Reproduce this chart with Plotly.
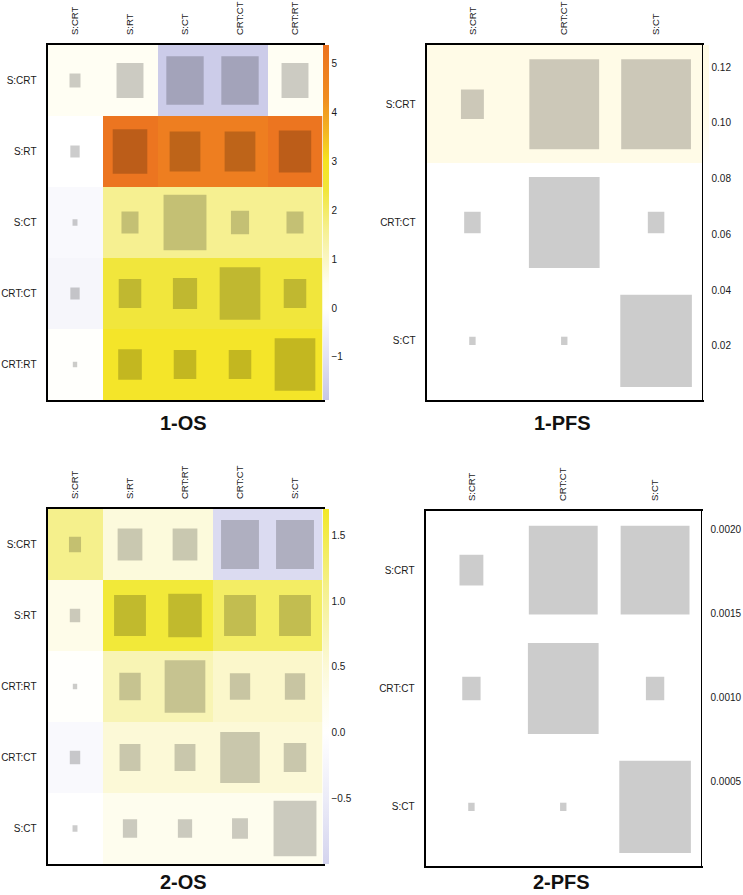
import plotly.graph_objects as go

# ---------------- data ----------------
os1_labels = ["S:CRT", "S:RT", "S:CT", "CRT:CT", "CRT:RT"]
os1_z = [
    [0.4, 0.4, -1.7, -1.7, 0.4],
    [0.0, 5.3, 4.9, 4.9, 5.3],
    [-0.2, 1.6, 1.6, 1.6, 1.6],
    [-0.3, 2.4, 2.4, 2.4, 2.4],
    [0.1, 2.8, 2.8, 2.8, 2.8],
]
os1_size = [
    [0.20, 0.49, 0.68, 0.68, 0.49],
    [0.17, 0.63, 0.56, 0.56, 0.59],
    [0.09, 0.31, 0.78, 0.33, 0.31],
    [0.17, 0.41, 0.44, 0.74, 0.41],
    [0.08, 0.43, 0.41, 0.41, 0.74],
]
os1_ticks = [-1, 0, 1, 2, 3, 4, 5]

pfs1_labels = ["S:CRT", "CRT:CT", "S:CT"]
pfs1_z = [
    [0.125, 0.125, 0.125],
    [0.03, 0.03, 0.03],
    [0.01, 0.01, 0.01],
]
pfs1_size = [
    [0.25, 0.76, 0.76],
    [0.18, 0.77, 0.18],
    [0.07, 0.07, 0.78],
]
pfs1_ticks = [0.02, 0.04, 0.06, 0.08, 0.10, 0.12]

os2_labels = ["S:CRT", "S:RT", "CRT:RT", "CRT:CT", "S:CT"]
os2_z = [
    [1.1, 0.45, 0.45, -0.85, -0.85],
    [0.3, 1.6, 1.6, 1.35, 1.35],
    [0.05, 0.8, 0.8, 0.6, 0.6],
    [-0.15, 0.5, 0.5, 0.5, 0.5],
    [0.0, 0.25, 0.25, 0.25, 0.25],
]
os2_size = [
    [0.22, 0.45, 0.45, 0.69, 0.69],
    [0.19, 0.58, 0.61, 0.58, 0.58],
    [0.08, 0.39, 0.74, 0.37, 0.37],
    [0.19, 0.38, 0.38, 0.72, 0.41],
    [0.09, 0.26, 0.26, 0.29, 0.78],
]
os2_ticks = [-0.5, 0.0, 0.5, 1.0, 1.5]

pfs2_labels = ["S:CRT", "CRT:CT", "S:CT"]
pfs2_z = [
    [0.0020, 0.0020, 0.0020],
    [0.0008, 0.0008, 0.0008],
    [0.0003, 0.0003, 0.0003],
]
pfs2_size = [
    [0.26, 0.75, 0.75],
    [0.20, 0.77, 0.20],
    [0.07, 0.07, 0.78],
]
pfs2_ticks = [0.0005, 0.0010, 0.0015, 0.0020]

titles = ["1-OS", "1-PFS", "2-OS", "2-PFS"]

# ---------------- styling ----------------
W, H = 743, 895
FONT = "Liberation Sans, Arial, sans-serif"


def px(x):
    return x / W


def py(y):
    return 1 - y / H


def scale(stops, zmin, zmax):
    return [[(v - zmin) / (zmax - zmin), c] for v, c in stops]


panels = [
    dict(labels=os1_labels, z=os1_z, size=os1_size, ticks=os1_ticks, fmt="d",
         zmin=-1.88, zmax=5.38, box=(47.5, 322.5, 45, 400), title_y=423,
         stops=[(-1.88, "rgb(198,198,230)"), (-1.0, "rgb(226,226,243)"),
                (0.0, "rgb(255,255,255)"), (0.5, "rgb(255,254,240)"),
                (1.0, "rgb(250,246,195)"), (1.6, "rgb(246,240,145)"),
                (2.4, "rgb(241,230,60)"), (3.0, "rgb(245,228,32)"),
                (3.6, "rgb(243,182,35)"), (4.3, "rgb(240,140,32)"),
                (5.38, "rgb(236,115,32)")]),
    dict(labels=pfs1_labels, z=pfs1_z, size=pfs1_size, ticks=pfs1_ticks, fmt=".2f",
         zmin=0.0005, zmax=0.128, box=(426.5, 702, 45, 400), title_y=423,
         stops=[(0.0005, "rgb(255,255,255)"), (0.085, "rgb(255,255,255)"),
                (0.1, "rgb(255,252,236)"), (0.128, "rgb(255,251,230)")]),
    dict(labels=os2_labels, z=os2_z, size=os2_size, ticks=os2_ticks, fmt=".1f",
         zmin=-1.0, zmax=1.70, box=(47.5, 322.5, 509, 864), title_y=882,
         stops=[(-1.0, "rgb(212,212,238)"), (-0.5, "rgb(236,236,248)"),
                (0.0, "rgb(255,255,255)"), (0.25, "rgb(254,253,238)"),
                (0.5, "rgb(252,249,215)"), (0.8, "rgb(248,244,180)"),
                (1.1, "rgb(245,240,140)"), (1.35, "rgb(243,237,100)"),
                (1.7, "rgb(242,232,40)")]),
    dict(labels=pfs2_labels, z=pfs2_z, size=pfs2_size, ticks=pfs2_ticks, fmt=".4f",
         zmin=0.0, zmax=0.00211, box=(425.5, 701, 511, 866), title_y=882,
         stops=[(0.0, "rgb(255,255,255)"), (0.00211, "rgb(255,255,255)")]),
]

fig = go.Figure()
shapes = []
annotations = []
layout_axes = {}

for k, p in enumerate(panels):
    n = len(p["labels"])
    xa = "x" if k == 0 else f"x{k+1}"
    ya = "y" if k == 0 else f"y{k+1}"
    x0p, x1p, y0p, y1p = p["box"]
    dom_x = [px(x0p), px(x1p)]
    dom_y = [py(y1p), py(y0p)]

    fig.add_trace(go.Heatmap(
        z=p["z"], x=p["labels"], y=p["labels"],
        xaxis=xa, yaxis=ya,
        zmin=p["zmin"], zmax=p["zmax"],
        colorscale=scale(p["stops"], p["zmin"], p["zmax"]),
        hoverinfo="skip",
        colorbar=dict(
            x=px(x1p + 0.5), xanchor="left", xpad=0, ypad=0,
            y=(dom_y[0] + dom_y[1]) / 2, yanchor="middle",
            len=(y1p - y0p) / H, lenmode="fraction",
            thickness=6, outlinewidth=0,
            tickvals=p["ticks"], tickformat=p["fmt"], ticks="",
            tickfont=dict(family=FONT, size=10, color="#1a1a1a"),
        ),
    ))

    for i in range(n):
        for j in range(n):
            s = p["size"][i][j]
            shapes.append(dict(
                type="rect", xref=xa, yref=ya,
                x0=j - s / 2, x1=j + s / 2, y0=i - s / 2, y1=i + s / 2,
                fillcolor="rgba(0,0,0,0.2)", line=dict(width=0), layer="above",
            ))

    axis_key_x = "xaxis" if k == 0 else f"xaxis{k+1}"
    axis_key_y = "yaxis" if k == 0 else f"yaxis{k+1}"
    layout_axes[axis_key_x] = dict(
        domain=dom_x, anchor=ya, side="top", type="category",
        range=[-0.5, n - 0.5], tickangle=-90, ticks="",
        ticklabelstandoff=6, automargin=False,
        tickfont=dict(family=FONT, size=9.5, color="#1a1a1a"),
        showgrid=False, zeroline=False,
        showline=True, mirror=True, linecolor="black", linewidth=2,
    )
    layout_axes[axis_key_y] = dict(
        domain=dom_y, anchor=xa, type="category",
        range=[n - 0.5, -0.5], ticks="",
        ticklabelstandoff=7, automargin=False,
        tickfont=dict(family=FONT, size=10, color="#1a1a1a"),
        showgrid=False, zeroline=False,
        showline=True, mirror=True, linecolor="black", linewidth=2,
    )

    annotations.append(dict(
        text=f"<b>{titles[k]}</b>", xref="paper", yref="paper",
        x=px((x0p + x1p) / 2 - 1.5), y=py(p["title_y"]),
        xanchor="center", yanchor="middle", showarrow=False,
        font=dict(family=FONT, size=20, color="#111111"),
    ))

fig.update_layout(
    width=W, height=H,
    margin=dict(l=0, r=0, t=0, b=0, autoexpand=False),
    paper_bgcolor="white", plot_bgcolor="white",
    shapes=shapes, annotations=annotations,
    showlegend=False,
    **layout_axes,
)

fig.write_html(
    "out.html",
    config={"displayModeBar": False},
    post_script="document.body.style.margin='0px';document.body.style.overflow='hidden';",
)
